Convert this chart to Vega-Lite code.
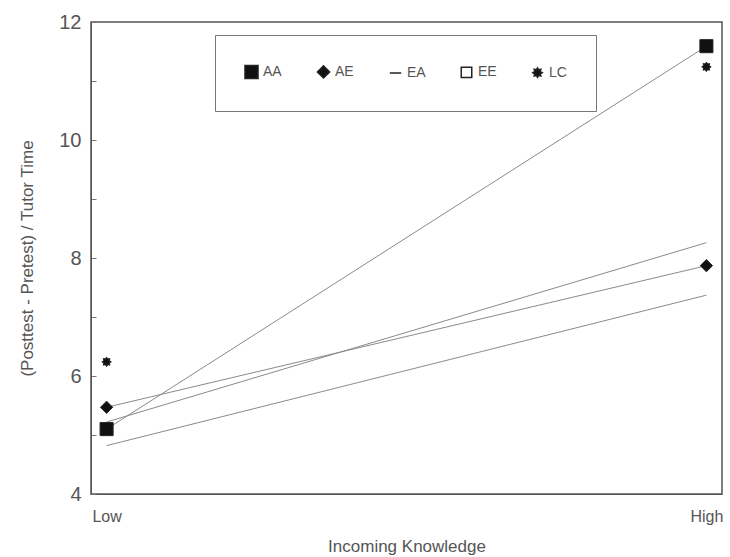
{
  "$schema": "https://vega.github.io/schema/vega-lite/v6.json",
  "width": 631,
  "height": 472,
  "autosize": "none",
  "padding": {"left": 91, "top": 22, "right": 8, "bottom": 63},
  "background": "white",
  "config": {
    "font": "Liberation Sans",
    "view": {"stroke": "#555", "strokeWidth": 1.5},
    "axis": {"labelColor": "#555", "titleColor": "#555", "domainColor": "#555", "tickColor": "#777", "grid": false, "labelFont": "Liberation Sans", "titleFont": "Liberation Sans", "titleFontWeight": "normal"}
  },
  "data": {
    "values": [
      {"series": "AA", "knowledge": "Low", "value": 5.10},
      {"series": "AA", "knowledge": "High", "value": 11.59},
      {"series": "AE", "knowledge": "Low", "value": 5.47},
      {"series": "AE", "knowledge": "High", "value": 7.87},
      {"series": "EA", "knowledge": "Low", "value": 4.82},
      {"series": "EA", "knowledge": "High", "value": 7.37},
      {"series": "EE", "knowledge": "Low", "value": 5.22},
      {"series": "EE", "knowledge": "High", "value": 8.26},
      {"series": "LC", "knowledge": "Low", "value": 6.24},
      {"series": "LC", "knowledge": "High", "value": 11.24}
    ]
  },
  "encoding": {
    "x": {
      "field": "knowledge", "type": "ordinal", "sort": ["Low", "High"],
      "scale": {"type": "point", "padding": 0.026},
      "axis": {"title": "Incoming Knowledge", "labelAngle": 0, "labelFontSize": 16, "titleFontSize": 17, "ticks": false, "labelPadding": 14, "titlePadding": 14}
    },
    "y": {
      "field": "value", "type": "quantitative",
      "scale": {"domain": [4, 12], "nice": false, "zero": false},
      "axis": {"title": "(Posttest - Pretest) / Tutor Time", "values": [4, 5, 6, 7, 8, 9, 10, 11, 12], "labelExpr": "datum.value % 2 == 0 ? datum.label : ''", "labelFontSize": 20, "titleFontSize": 17, "tickSize": -5, "labelPadding": 15, "titlePadding": 22}
    }
  },
  "layer": [
    {
      "transform": [{"filter": "datum.series != 'LC'"}],
      "mark": {"type": "line", "color": "#8a8a8a", "strokeWidth": 1},
      "encoding": {"detail": {"field": "series"}}
    },
    {
      "transform": [{"filter": "datum.series == 'AA' || datum.series == 'AE' || datum.series == 'LC'"}],
      "mark": {"type": "point", "filled": true, "stroke": "#222", "strokeWidth": 1, "opacity": 1},
      "encoding": {
        "shape": {
          "field": "series", "type": "nominal", "title": "",
          "scale": {"domain": ["AA", "AE", "EA", "EE", "LC"], "range": ["square", "diamond", "stroke", "square", "M0,-1L0.25,-0.6L0.7,-0.7L0.6,-0.25L1,0L0.6,0.25L0.7,0.7L0.25,0.6L0,1L-0.25,0.6L-0.7,0.7L-0.6,0.25L-1,0L-0.6,-0.25L-0.7,-0.7L-0.25,-0.6Z"]},
          "legend": {
            "orient": "none", "legendX": 124, "legendY": 13,
            "direction": "horizontal", "columns": 5, "columnPadding": 32,
            "strokeColor": "#777", "padding": 29, "labelFontSize": 14, "labelColor": "#555",
            "symbolSize": 110, "symbolStrokeColor": "#333"
          }
        },
        "color": {
          "field": "series", "type": "nominal", "title": "",
          "scale": {"domain": ["AA", "AE", "EA", "EE", "LC"], "range": ["#111", "#111", "#888", "#fff", "#111"]}
        },
        "size": {
          "field": "series", "type": "nominal", "title": "",
          "scale": {"domain": ["AA", "AE", "EA", "EE", "LC"], "range": [170, 90, 60, 120, 110]}
        }
      }
    }
  ]
}
